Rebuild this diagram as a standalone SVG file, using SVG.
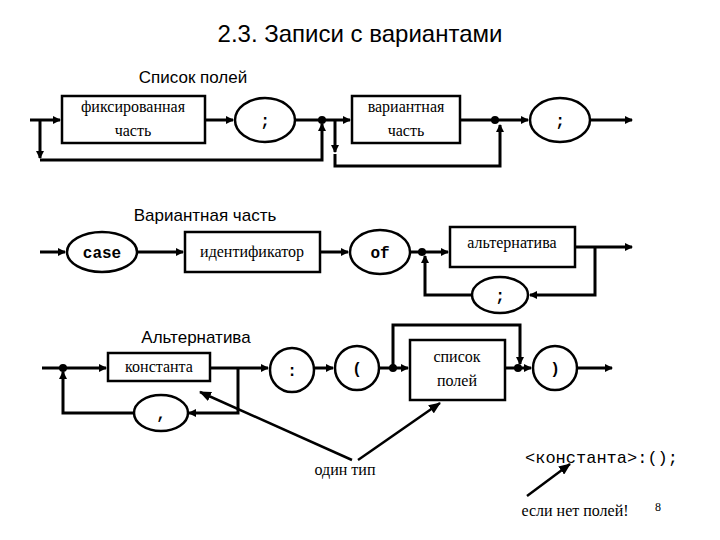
<svg xmlns="http://www.w3.org/2000/svg" width="720" height="540" viewBox="0 0 720 540">
<style>
.b{fill:#fff;stroke:#000;stroke-width:2.5}
.l{fill:none;stroke:#000;stroke-width:3}
.t{font-family:"Liberation Serif",serif;font-size:16px;text-anchor:middle}
.m{font-family:"Liberation Mono",monospace;font-size:16px;font-weight:bold;text-anchor:middle}
.h{font-family:"Liberation Sans",sans-serif;font-size:17px;text-anchor:middle}
.thin{fill:none;stroke:#000;stroke-width:2.5}
</style>
<defs>
<marker id="a" markerWidth="8" markerHeight="8" refX="7" refY="4" orient="auto" markerUnits="userSpaceOnUse"><path d="M0,0L8,4L0,8z"/></marker>
<marker id="a2" markerWidth="12" markerHeight="10" refX="11" refY="5" orient="auto" markerUnits="userSpaceOnUse"><path d="M0,0L12,5L0,10z"/></marker>
</defs>
<text x="360" y="42" font-family="Liberation Sans,sans-serif" font-size="24" text-anchor="middle">2.3. Записи с вариантами</text>
<text class="h" x="193" y="83">Список полей</text>
<text class="h" x="205" y="221">Вариантная часть</text>
<text class="h" x="196" y="343">Альтернатива</text>
<g id="connectors">
<path class="l" d="M30,120H60" marker-end="url(#a)"/>
<path class="l" d="M205,120H233" marker-end="url(#a)"/>
<path class="l" d="M295,120H350" marker-end="url(#a)"/>
<path class="l" d="M40,120V158" marker-end="url(#a)"/>
<path class="l" d="M40,160H322V124" marker-end="url(#a)"/>
<path class="l" d="M335,120V152" marker-end="url(#a)"/>
<path class="l" d="M335,154V166H500V125" marker-end="url(#a)"/>
<path class="l" d="M460,120H528" marker-end="url(#a)"/>
<path class="l" d="M590,120H632" marker-end="url(#a)"/>
<path class="l" d="M40,252H65" marker-end="url(#a)"/>
<path class="l" d="M137,252H183" marker-end="url(#a)"/>
<path class="l" d="M320,252H348" marker-end="url(#a)"/>
<path class="l" d="M410,252H448" marker-end="url(#a)"/>
<path class="l" d="M575,247H632" marker-end="url(#a)"/>
<path class="l" d="M595,247V295H530" marker-end="url(#a)"/>
<path class="l" d="M472,295H425V256" marker-end="url(#a)"/>
<path class="l" d="M42,368H106" marker-end="url(#a)"/>
<path class="l" d="M210,368H268" marker-end="url(#a)"/>
<path class="l" d="M314,368H333" marker-end="url(#a)"/>
<path class="l" d="M379,368H408" marker-end="url(#a)"/>
<path class="l" d="M505,368H531" marker-end="url(#a)"/>
<path class="l" d="M577,368H612" marker-end="url(#a)"/>
<path class="l" d="M393,368V325H520V364" marker-end="url(#a)"/>
<path class="l" d="M238,368V413H189" marker-end="url(#a)"/>
<path class="l" d="M133,413H63V372" marker-end="url(#a)"/>
<path class="thin" d="M352,460L200,392" marker-end="url(#a2)"/>
<path class="thin" d="M358,460L440,403" marker-end="url(#a2)"/>
<path class="thin" d="M527,496L570,464" marker-end="url(#a2)"/>
<circle cx="322" cy="120" r="4"/><circle cx="495" cy="120" r="4"/>
<circle cx="422" cy="252" r="4"/>
<circle cx="63" cy="368" r="4"/><circle cx="393" cy="368" r="4"/><circle cx="518" cy="368" r="4"/>
</g>
<g id="fixed"><rect class="b" x="62" y="96" width="143" height="47"/><text class="t" x="133" y="112">фиксированная</text><text class="t" x="133" y="136">часть</text></g>
<g id="semi1"><ellipse class="b" cx="265" cy="120" rx="30" ry="22"/><text class="m" x="265" y="126">;</text></g>
<g id="variant"><rect class="b" x="352" y="96" width="108" height="47"/><text class="t" x="406" y="112">вариантная</text><text class="t" x="406" y="136">часть</text></g>
<g id="semi2"><ellipse class="b" cx="560" cy="120" rx="30" ry="22"/><text class="m" x="560" y="126">;</text></g>
<g id="case"><ellipse class="b" cx="102" cy="252" rx="35" ry="20"/><text class="m" x="102" y="258">case</text></g>
<g id="ident"><rect class="b" x="185" y="232" width="135" height="40"/><text class="t" x="252" y="257">идентификатор</text></g>
<g id="of"><ellipse class="b" cx="380" cy="252" rx="30" ry="22"/><text class="m" x="380" y="258">of</text></g>
<g id="alt"><rect class="b" x="450" y="227" width="125" height="40"/><text class="t" x="512" y="248">альтернатива</text></g>
<g id="semi3"><ellipse class="b" cx="500" cy="295" rx="28" ry="18"/><text class="m" x="500" y="301">;</text></g>
<g id="const"><rect class="b" x="108" y="353" width="102" height="28"/><text class="t" x="159" y="372">константа</text></g>
<g id="colon"><ellipse class="b" cx="292" cy="370" rx="22" ry="22"/><text class="m" x="292" y="376">:</text></g>
<g id="lpar"><ellipse class="b" cx="357" cy="368" rx="22" ry="22"/><text class="m" x="357" y="374">(</text></g>
<g id="list"><rect class="b" x="410" y="340" width="95" height="60"/><text class="t" x="457" y="362">список</text><text class="t" x="457" y="386">полей</text></g>
<g id="rpar"><ellipse class="b" cx="555" cy="368" rx="22" ry="22"/><text class="m" x="555" y="374">)</text></g>
<g id="comma"><ellipse class="b" cx="161" cy="413" rx="27" ry="18"/><text class="m" x="161" y="419">,</text></g>
<text class="t" x="345" y="475">один тип</text>
<text x="525" y="463" font-family="Liberation Mono,monospace" font-size="17">&lt;константа&gt;:();</text>
<text class="t" x="575" y="516">если нет полей!</text>
<text x="655" y="511" font-family="Liberation Serif,serif" font-size="12">8</text>
</svg>
